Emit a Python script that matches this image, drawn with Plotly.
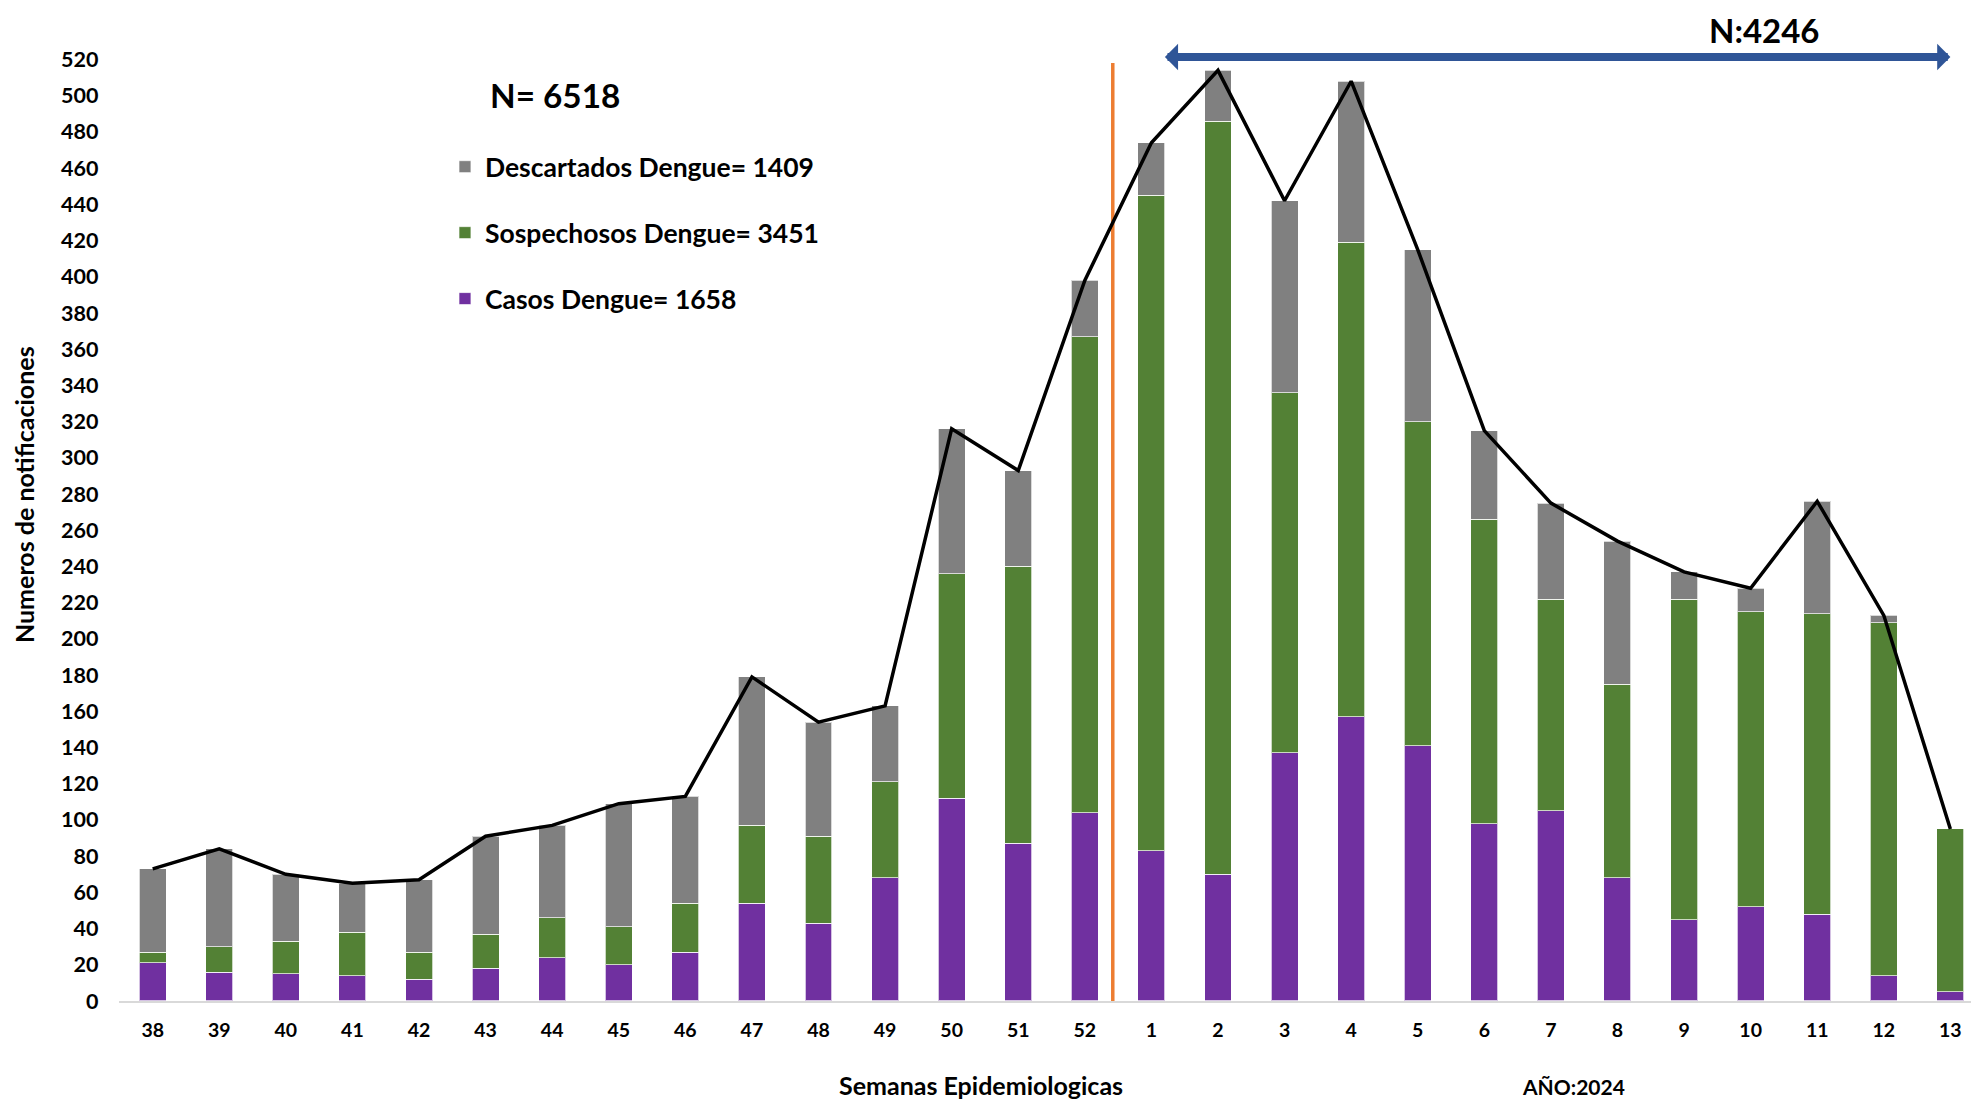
import plotly.graph_objects as go

weeks = ["38", "39", "40", "41", "42", "43", "44", "45", "46", "47", "48", "49", "50", "51", "52",
         "1", "2", "3", "4", "5", "6", "7", "8", "9", "10", "11", "12", "13"]
casos = [21, 16, 15, 14, 12, 18, 24, 20, 27, 54, 43, 68, 112, 87, 104,
         83, 70, 137, 157, 141, 98, 105, 68, 45, 52, 48, 14, 5]
sospechosos = [6, 14, 18, 24, 15, 19, 22, 21, 27, 43, 48, 53, 124, 153, 263,
               362, 416, 199, 262, 179, 168, 117, 107, 177, 163, 166, 195, 90]
descartados = [46, 54, 37, 27, 40, 54, 51, 68, 59, 82, 63, 42, 80, 53, 31,
               29, 28, 106, 89, 95, 49, 53, 79, 15, 13, 62, 4, 0]
totales = [c + s + d for c, s, d in zip(casos, sospechosos, descartados)]

FONT = "Lato"
C_PURPLE = "#7030A0"
C_GREEN = "#538135"
C_GREY = "#808080"


def bold(size):
    return dict(family=FONT, size=size, color="black", weight="bold")


fig = go.Figure()
common = dict(width=0.405, marker_line=dict(color="rgba(255,255,255,0.7)", width=1))
fig.add_trace(go.Bar(x=weeks, y=casos, name="Casos Dengue= 1658",
                     marker_color=C_PURPLE, legendgroup="c", legendrank=3, **common))
fig.add_trace(go.Bar(x=weeks, y=sospechosos, name="Sospechosos Dengue= 3451",
                     marker_color=C_GREEN, legendgroup="s", legendrank=2, **common))
fig.add_trace(go.Bar(x=weeks, y=descartados, name="Descartados Dengue= 1409",
                     marker_color=C_GREY, legendgroup="d", legendrank=1, **common))
fig.add_trace(go.Scatter(x=weeks, y=totales, mode="lines", showlegend=False,
                         line=dict(color="black", width=3.5)))

fig.update_layout(
    width=1971, height=1091,
    barmode="stack",
    paper_bgcolor="white", plot_bgcolor="white",
    margin=dict(l=0, r=0, t=0, b=0),
    showlegend=True,
    legend=dict(x=0.2217, y=0.8763, xanchor="left", yanchor="top",
                traceorder="grouped", tracegroupgap=28.5,
                font=bold(26.5), bgcolor="rgba(0,0,0,0)"),
    xaxis=dict(type="category", domain=[0.05652, 1.0], range=[-0.5, 27.43],
               showline=True, linecolor="#D9D9D9", linewidth=2,
               showgrid=False, ticks="", ticklabelstandoff=11, automargin=False,
               tickfont=bold(19.5)),
    yaxis=dict(domain=[0.08983, 0.96109], range=[0, 525], tickvals=list(range(0, 521, 20)),
               showline=False, showgrid=False, zeroline=False, ticks="",
               ticklabelstandoff=20, automargin=False, tickfont=bold(21.5)),
    shapes=[dict(type="line", xref="x", yref="y", x0=14.42, x1=14.42, y0=-4, y1=518,
                 line=dict(color="#ED7D31", width=3.5), layer="below")],
    annotations=[
        dict(xref="x", yref="y", x=27.0, y=521.4, ax=15.18, ay=521.4, axref="x", ayref="y",
             text="", showarrow=True, arrowhead=1, startarrowhead=1, arrowside="end+start",
             arrowsize=0.55, startarrowsize=0.55, arrowwidth=8, arrowcolor="#2F5597",
             standoff=0, startstandoff=0),
        dict(xref="paper", yref="paper", x=0.2773, y=0.9203, xanchor="center", yanchor="middle",
             text="N= 6518", showarrow=False, font=bold(33.3)),
        dict(xref="paper", yref="paper", x=0.8909, y=1.0, xanchor="center", yanchor="top",
             text="N:4246", showarrow=False, font=bold(33)),
        dict(xref="paper", yref="paper", x=0.00812, y=0.5536, xanchor="center", yanchor="middle",
             text="Numeros de notificaciones", textangle=-90, showarrow=False, font=bold(25)),
        dict(xref="paper", yref="paper", x=0.4937, y=0.01283, xanchor="center", yanchor="middle",
             text="Semanas Epidemiologicas", showarrow=False, font=bold(25)),
        dict(xref="paper", yref="paper", x=0.7945, y=0.011, xanchor="center", yanchor="middle",
             text="AÑO:2024", showarrow=False, font=bold(21)),
    ],
)

fig.write_html("out.html")
